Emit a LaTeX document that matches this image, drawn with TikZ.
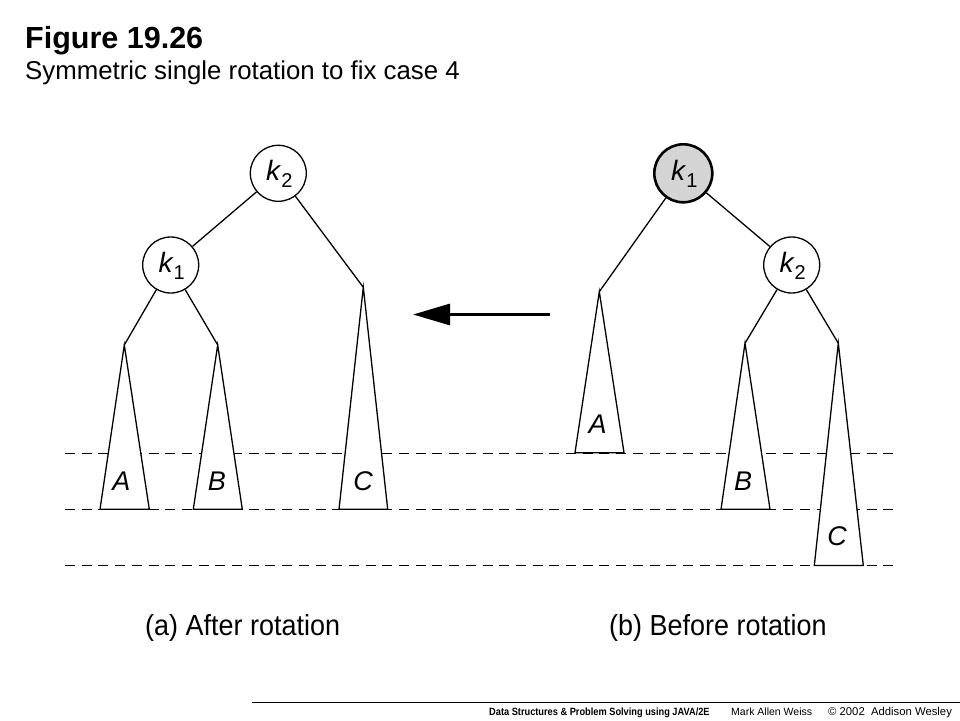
\documentclass[tikz,border=0pt]{standalone}
\usepackage{fontspec}
\setmainfont{Liberation Sans}
\newfontfamily\narrowfont[FakeStretch=0.93]{Liberation Sans}
\newfontfamily\footfont[FakeStretch=0.88]{Liberation Sans}
\usetikzlibrary{arrows.meta}
\begin{document}
\begin{tikzpicture}[x=1pt,y=-1pt,
  treenode/.style={circle, draw, line width=1.3pt, minimum size=56pt, inner sep=0pt, fill=white},
  rootnode/.style={treenode, line width=2.6pt, minimum size=58pt, fill=black!17},
  keytext/.style={font=\fontsize{28}{32}\selectfont, inner sep=0pt},
  edge/.style={line width=1.3pt},
  subtree/.style={draw, line width=1.3pt, fill=white, line join=miter},
  level/.style={line width=1.3pt, dash pattern=on 10pt off 6.7pt},
  sublabel/.style={font=\fontsize{27}{30}\selectfont\itshape, inner sep=0pt},
  txt/.style={inner sep=0pt, anchor=base west}
]
\useasboundingbox (0,0) rectangle (960,720);
\fill[white] (0,0) rectangle (960,720);

% titles
\node[txt, font=\fontsize{30.5}{36}\selectfont\bfseries] (title) at (25,48.5) {Figure 19.26};
\node[txt, font=\fontsize{25.8}{30}\selectfont] (subtitle) at (25,79.5) {Symmetric single rotation to fix case 4};

% dashed levels
\coordinate (l1w) at (65,453.3); \coordinate (l1e) at (898,453.3);
\coordinate (l2w) at (65,509.3); \coordinate (l2e) at (898,509.3);
\coordinate (l3w) at (65,565.5); \coordinate (l3e) at (898,565.5);
\draw[level] (l1w) -- (l1e);
\draw[level] (l2w) -- (l2e);
\draw[level] (l3w) -- (l3e);

% ---------- (a) After rotation ----------
\node[treenode] (ak2) at (278.3,173.3) {};
\node[keytext] (ak2t) at ([xshift=1pt,yshift=-1pt]ak2) {\textit{k}\raisebox{-7pt}{\fontsize{20}{24}\selectfont 2}};
\node[treenode] (ak1) at (170.7,265) {};
\node[keytext] (ak1t) at ([xshift=1pt,yshift=-1pt]ak1) {\textit{k}\raisebox{-7pt}{\fontsize{20}{24}\selectfont 1}};
\coordinate (aA) at (124.3,345);
\coordinate (aB) at (217.7,345);
\coordinate (aC) at (363.3,287.3);
\draw[edge] (ak2) -- (ak1);
\draw[edge] (ak2) -- (aC);
\draw[edge] (ak1) -- (aA);
\draw[edge] (ak1) -- (aB);
\draw[subtree] (aA) -- (149.3,509.3) -- (100,509.3) -- cycle;
\draw[subtree] (aB) -- (242.3,509.3) -- (193.3,509.3) -- cycle;
\draw[subtree] (aC) -- (387.7,509.3) -- (339,509.3) -- cycle;
\node[sublabel] (aAt) at (121.5,481) {A};
\node[sublabel] (aBt) at (217,481) {B};
\node[sublabel] (aCt) at (363,481) {C};

% ---------- arrow ----------
\coordinate (arrS) at (550,314.5);
\coordinate (arrE) at (413,314.5);
\draw[line width=3pt, -{Triangle[length=37pt,width=21pt]}] (arrS) -- (arrE);

% ---------- (b) Before rotation ----------
\node[rootnode] (bk1) at (683.3,173.3) {};
\node[keytext] (bk1t) at ([xshift=1pt,yshift=-1pt]bk1) {\textit{k}\raisebox{-7pt}{\fontsize{20}{24}\selectfont 1}};
\node[treenode] (bk2) at (791.7,265) {};
\node[keytext] (bk2t) at ([xshift=1pt,yshift=-1pt]bk2) {\textit{k}\raisebox{-7pt}{\fontsize{20}{24}\selectfont 2}};
\coordinate (bA) at (599.3,291.7);
\coordinate (bB) at (745,343.3);
\coordinate (bC) at (838.3,343.3);
\draw[edge] (bk1) -- (bk2);
\draw[edge] (bk1) -- (bA);
\draw[edge] (bk2) -- (bB);
\draw[edge] (bk2) -- (bC);
\draw[subtree] (bA) -- (624,452.7) -- (575,452.7) -- cycle;
\draw[subtree] (bB) -- (770,509.3) -- (721,509.3) -- cycle;
\draw[subtree] (bC) -- (863.3,565.5) -- (814.3,565.5) -- cycle;
\node[sublabel] (bAt) at (597.5,424) {A};
\node[sublabel] (bBt) at (743,481) {B};
\node[sublabel] (bCt) at (837,536.5) {C};

% captions
\node[txt, font=\narrowfont\fontsize{29}{34}\selectfont] (capa) at (145,635) {(a) After rotation};
\node[txt, font=\narrowfont\fontsize{29}{34}\selectfont] (capb) at (609,635) {(b) Before rotation};

% footer
\coordinate (fw) at (252,702.3); \coordinate (fe) at (960,702.3);
\draw[line width=1.2pt] (fw) -- (fe);
\node[txt, font=\footfont\fontsize{10.5}{12}\selectfont\bfseries] (f1) at (489,715.7) {Data Structures \& Problem Solving using JAVA/2E};
\node[txt, font=\fontsize{10.5}{12}\selectfont] (f2) at (731,715.7) {Mark Allen Weiss};
\node[txt, font=\fontsize{11.3}{13}\selectfont] (f3) at (828,715.7) {© 2002\ \ Addison Wesley};
\end{tikzpicture}
\end{document}
